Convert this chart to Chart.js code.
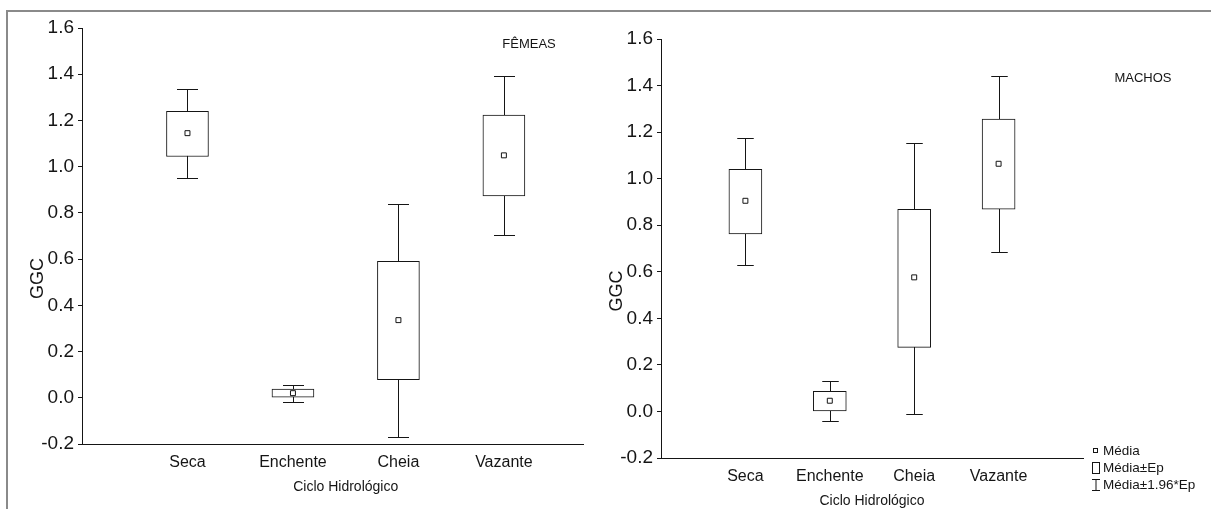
<!DOCTYPE html>
<html>
<head>
<meta charset="utf-8">
<script src="https://cdn.jsdelivr.net/npm/chart.js@4/dist/chart.umd.min.js"></script>
<style>
body { margin: 0; width: 1211px; height: 509px; overflow: hidden; background: #fff; position: relative; }
#frame { position: absolute; left: 6px; top: 10px; width: 1300px; height: 600px; border-left: 2px solid #8a8a8a; border-top: 2px solid #8a8a8a; }
#femeas { position: absolute; left: 0; top: 0; }
#machos { position: absolute; left: 600px; top: 0; }
</style>
</head>
<body>
<div id="frame"></div>
<canvas id="femeas" width="600" height="509"></canvas>
<canvas id="machos" width="611" height="509"></canvas>
<script>
const FONT = '"Liberation Sans", Arial, sans-serif';
const INK = '#151515';

const categories = ['Seca', 'Enchente', 'Cheia', 'Vazante'];

// GGC - fêmeas
const femMean   = [1.145, 0.020, 0.336, 1.049];
const femEpLow  = [1.044, 0.000, 0.078, 0.873];
const femEpHigh = [1.239, 0.038, 0.590, 1.223];
const femCiLow  = [0.950, -0.017, -0.169, 0.704];
const femCiHigh = [1.334, 0.055, 0.837, 1.392];

// GGC - machos
const macMean   = [0.905, 0.046, 0.576, 1.064];
const macEpLow  = [0.763, 0.000, 0.275, 0.869];
const macEpHigh = [1.040, 0.086, 0.868, 1.256];
const macCiLow  = [0.629, -0.042, -0.011, 0.685];
const macCiHigh = [1.174, 0.129, 1.153, 1.441];

// whiskers (média ± 1.96*Ep), drawn under the boxes
const whiskerPlugin = {
  id: 'whiskers',
  beforeDatasetsDraw(chart, args, opts) {
    const ctx = chart.ctx;
    const y = chart.scales.y;
    const bars = chart.getDatasetMeta(0).data;
    ctx.save();
    ctx.strokeStyle = INK;
    ctx.lineWidth = 1;
    bars.forEach((bar, i) => {
      const x = Math.round(bar.x) + 0.5;
      const cap = bar.width / 4;
      const hi = Math.round(y.getPixelForValue(opts.high[i])) + 0.5;
      const lo = Math.round(y.getPixelForValue(opts.low[i])) + 0.5;
      ctx.beginPath();
      ctx.moveTo(x, hi); ctx.lineTo(x, lo);
      ctx.moveTo(x - cap, hi); ctx.lineTo(x + cap, hi);
      ctx.moveTo(x - cap, lo); ctx.lineTo(x + cap, lo);
      ctx.stroke();
    });
    ctx.restore();
  }
};

// axis titles, panel name and the key
const textPlugin = {
  id: 'panelText',
  afterDraw(chart, args, o) {
    const { ctx, chartArea } = chart;
    const xs = chart.scales.x;
    ctx.save();
    ctx.fillStyle = INK;
    ctx.textAlign = 'center';
    ctx.textBaseline = 'middle';
    ctx.font = '14px ' + FONT;
    ctx.fillText('Ciclo Hidrológico', xs.getPixelForValue(2.5), chartArea.bottom + 43.5);
    ctx.font = '13px ' + FONT;
    ctx.fillText(o.title, o.titleX, o.titleY);

    ctx.save();
    ctx.font = '18px ' + FONT;
    ctx.translate(chartArea.left - 43.5, (chartArea.top + chartArea.bottom) / 2 + 42.5);
    ctx.rotate(-Math.PI / 2);
    ctx.fillText('GGC', 0, 0);
    ctx.restore();

    if (o.key) {
      const kx = o.key.x, ky = o.key.y;
      ctx.strokeStyle = INK;
      ctx.lineWidth = 1;
      ctx.strokeRect(kx - 1.5, ky - 1.5, 4, 4);
      ctx.strokeRect(kx - 2.5, ky + 12.5, 7, 11);
      ctx.beginPath();
      ctx.moveTo(kx + 1, ky + 29.5); ctx.lineTo(kx + 1, ky + 40.5);
      ctx.moveTo(kx - 3, ky + 29.5); ctx.lineTo(kx + 5, ky + 29.5);
      ctx.moveTo(kx - 3, ky + 40.5); ctx.lineTo(kx + 5, ky + 40.5);
      ctx.stroke();
      ctx.textAlign = 'left';
      ctx.font = '13.5px ' + FONT;
      ctx.fillText('Média', kx + 8, ky + 1);
      ctx.fillText('Média±Ep', kx + 8, ky + 18);
      ctx.fillText('Média±1.96*Ep', kx + 8, ky + 35);
    }
    ctx.restore();
  }
};

function boxChart(id, d) {
  return new Chart(document.getElementById(id), {
    type: 'bar',
    data: {
      datasets: [
        {
          type: 'bar',
          order: 1,
          data: categories.map((c, i) => ({ x: i + 1, y: [d.epLow[i], d.epHigh[i]] })),
          backgroundColor: '#fff',
          borderColor: INK,
          borderWidth: 1,
          borderSkipped: false,
          barThickness: d.boxWidth
        },
        {
          type: 'scatter',
          order: 0,
          data: categories.map((c, i) => ({ x: i + 1, y: d.mean[i] })),
          pointStyle: 'rect',
          pointRadius: 3.5,
          backgroundColor: '#fff',
          borderColor: INK,
          borderWidth: 1
        }
      ]
    },
    options: {
      responsive: false,
      animation: false,
      layout: { padding: d.padding },
      plugins: {
        legend: { display: false },
        tooltip: { enabled: false },
        whiskers: { low: d.ciLow, high: d.ciHigh },
        panelText: { title: d.title, titleX: d.titleX, titleY: d.titleY, key: d.key }
      },
      scales: {
        x: {
          type: 'linear',
          min: 0,
          max: d.xMax,
          offset: false,
          grid: { display: false, offset: false },
          border: { color: INK, width: 1 },
          afterBuildTicks: s => { s.ticks = categories.map((c, i) => ({ value: i + 1 })); },
          ticks: {
            callback: v => categories[v - 1],
            font: { size: 16, family: FONT },
            color: INK,
            padding: 1,
            maxRotation: 0,
            autoSkip: false
          },
          afterFit: s => { s.height = d.xHeight; }
        },
        y: {
          min: -0.2,
          max: 1.6,
          ticks: {
            stepSize: 0.2,
            callback: v => v.toFixed(1),
            font: { size: 19, family: FONT },
            color: INK,
            padding: 4
          },
          grid: { drawOnChartArea: false, tickLength: 4, color: INK },
          border: { color: INK, width: 1 },
          afterFit: s => { s.width = d.yWidth; }
        }
      }
    },
    plugins: [whiskerPlugin, textPlugin]
  });
}

boxChart('femeas', {
  mean: femMean, epLow: femEpLow, epHigh: femEpHigh, ciLow: femCiLow, ciHigh: femCiHigh,
  boxWidth: 42, xMax: 4.75, yWidth: 82, xHeight: 65,
  padding: { left: 0, top: 28, right: 17, bottom: 0 },
  title: 'FÊMEAS', titleX: 529, titleY: 44
});

boxChart('machos', {
  mean: macMean, epLow: macEpLow, epHigh: macEpHigh, ciLow: macCiLow, ciHigh: macCiHigh,
  boxWidth: 33, xMax: 5, yWidth: 61, xHeight: 51,
  padding: { left: 0, top: 39, right: 128, bottom: 0 },
  title: 'MACHOS', titleX: 543, titleY: 78,
  key: { x: 495, y: 450 }
});
</script>
</body>
</html>
